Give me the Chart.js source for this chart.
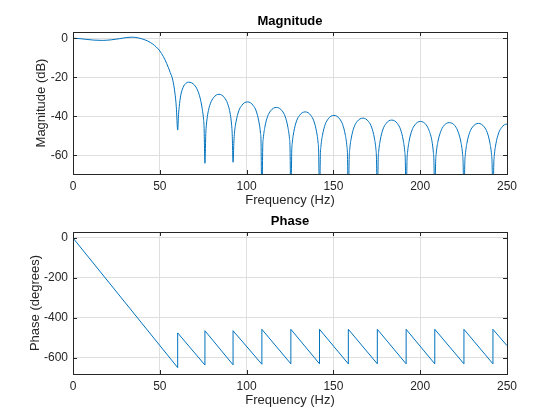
<!DOCTYPE html>
<html>
<head>
<meta charset="utf-8">
<script src="https://cdn.jsdelivr.net/npm/chart.js@4.4.1/dist/chart.umd.min.js"></script>
<style>
  html, body { margin: 0; padding: 0; background: #fff; }
  #wrap { position: relative; width: 560px; height: 420px; }
  canvas { position: absolute; left: 0; }
</style>
</head>
<body>
<div id="wrap">
  <canvas id="magChart" width="560" height="210" style="top:0"></canvas>
  <canvas id="phaseChart" width="560" height="210" style="top:210px"></canvas>
</div>
<script>
// tick labels
const freqTicks = [0, 50, 100, 150, 200, 250];
const magTicks = [-60, -40, -20, 0];
const phaseTicks = [-600, -400, -200, 0];

// magnitude response (Hz, dB)
const magFreq = [
  0, 4, 8, 12, 17, 22, 27, 31, 34, 37, 40, 43, 46, 48, 50, 52, 54, 56, 57.5, 58.7, 59.5,
  60.3, 60.8, 61.2, 62.0, 63.4, 65.0, 66.6, 68.3, 70.0, 71.6, 73.2, 74.5, 75.2, 75.5,
  76.0, 76.5, 76.8, 77.6, 79.2, 80.9, 82.5, 84.1, 85.7, 87.3, 89.0, 90.6, 91.4, 91.7,
  92.2, 92.7, 93.0, 93.9, 95.5, 97.2, 98.8, 100.5, 102.2, 103.8, 105.5, 107.1, 108.0, 108.3,
  108.8, 109.3, 109.6, 110.5, 112.1, 113.8, 115.5, 117.1, 118.8, 120.5, 122.2, 123.8, 124.7, 125.0,
  125.5, 126.0, 126.3, 127.2, 128.8, 130.5, 132.1, 133.8, 135.4, 137.0, 138.7, 140.3, 141.2, 141.5,
  142.0, 142.5, 142.8, 143.7, 145.3, 147.0, 148.6, 150.3, 152.0, 153.6, 155.3, 156.9, 157.8, 158.1,
  158.6, 159.1, 159.4, 160.3, 161.9, 163.6, 165.3, 167.0, 168.6, 170.3, 172.0, 173.6, 174.5, 174.8,
  175.3, 175.8, 176.1, 177.0, 178.6, 180.3, 181.9, 183.6, 185.3, 186.9, 188.6, 190.2, 191.1, 191.4,
  191.9, 192.4, 192.7, 193.6, 195.2, 196.9, 198.5, 200.2, 201.8, 203.5, 205.1, 206.8, 207.6, 207.9,
  208.4, 208.9, 209.2, 210.1, 211.8, 213.4, 215.1, 216.8, 218.5, 220.2, 221.8, 223.5, 224.4, 224.7,
  225.2, 225.7, 226.0, 226.9, 228.5, 230.2, 231.9, 233.6, 235.2, 236.9, 238.6, 240.2, 241.1, 241.4,
  241.9, 242.4, 242.7, 243.6, 245.2, 246.9, 248.5, 250.0
];
const magDb = [
  0, -0.2, -0.6, -0.95, -1.1, -0.8, -0.2, 0.4, 0.55, 0.3, -0.4, -1.4, -3.0, -4.5, -6.5, -9.3, -13, -17.5, -21.5, -28, -35,
  -47, -39, -35, -29.5, -25.2, -23.1, -22.5, -22.8, -24.0, -26.3, -30.5, -36.5, -41.5, -45.5,
  -64, -48.7, -44.7, -38.9, -33.3, -30.5, -29.1, -28.7, -29.1, -30.5, -33.3, -38.9, -44.7, -48.7,
  -63.5, -52.6, -48.6, -42.8, -37.2, -34.4, -33.0, -32.6, -33.0, -34.4, -37.2, -42.8, -48.6, -52.6,
  -85, -55.4, -51.4, -45.6, -40.0, -37.2, -35.8, -35.4, -35.8, -37.2, -40.0, -45.6, -51.4, -55.4,
  -85, -57.7, -53.7, -47.9, -42.3, -39.5, -38.1, -37.7, -38.1, -39.5, -42.3, -47.9, -53.7, -57.7,
  -85, -59.5, -55.5, -49.7, -44.1, -41.3, -39.9, -39.5, -39.9, -41.3, -44.1, -49.7, -55.5, -59.5,
  -85, -60.9, -56.9, -51.1, -45.5, -42.7, -41.3, -40.9, -41.3, -42.7, -45.5, -51.1, -56.9, -60.9,
  -85, -61.9, -57.9, -52.1, -46.5, -43.7, -42.3, -41.9, -42.3, -43.7, -46.5, -52.1, -57.9, -61.9,
  -85, -62.6, -58.6, -52.8, -47.2, -44.4, -43.0, -42.6, -43.0, -44.4, -47.2, -52.8, -58.6, -62.6,
  -85, -63.2, -59.2, -53.4, -47.8, -45.0, -43.6, -43.2, -43.6, -45.0, -47.8, -53.4, -59.2, -63.2,
  -85, -63.6, -59.6, -53.8, -48.2, -45.4, -44.0, -43.6, -44.0, -45.4, -48.2, -53.8, -59.6, -63.6,
  -85, -63.9, -59.9, -54.1, -48.5, -45.7, -44.3, -43.9
];

// phase response (Hz, degrees)
const phaseFreq = [
  0, 60.3, 60.3, 76.0, 76.0, 92.2, 92.2, 108.8, 108.8, 125.5, 125.5, 142.0, 142.0,
  158.6, 158.6, 175.3, 175.3, 191.9, 191.9, 208.4, 208.4, 225.2, 225.2, 241.9, 241.9, 250
];
const phaseDeg = [
  0, -650, -476, -637, -465, -636, -465, -633, -458, -631, -458, -631, -458,
  -631, -458, -631, -458, -631, -458, -631, -458, -631, -458, -631, -458, -540
];

const LINE = '#0072BD';
const AXIS = '#262626';
const GRID = '#dfdfdf';
const FONT = 'Liberation Sans, Arial, Helvetica, sans-serif';

function toPoints(xs, ys) {
  return xs.map((x, i) => ({ x: x, y: ys[i] }));
}

// box round the axes plus inward tick marks on all four sides
const boxTicks = {
  id: 'boxTicks',
  afterDraw(chart) {
    const { ctx, chartArea: a, scales: { x, y } } = chart;
    const len = 4;
    ctx.save();
    ctx.strokeStyle = AXIS;
    ctx.lineWidth = 1;
    ctx.beginPath();
    x.ticks.forEach(t => {
      const px = Math.round(x.getPixelForValue(t.value)) + 0.5;
      ctx.moveTo(px, a.bottom); ctx.lineTo(px, a.bottom - len);
      ctx.moveTo(px, a.top); ctx.lineTo(px, a.top + len);
    });
    y.ticks.forEach(t => {
      const py = Math.round(y.getPixelForValue(t.value)) + 0.5;
      ctx.moveTo(a.left, py); ctx.lineTo(a.left + len, py);
      ctx.moveTo(a.right, py); ctx.lineTo(a.right - len, py);
    });
    ctx.stroke();
    ctx.strokeRect(Math.round(a.left) + 0.5, Math.round(a.top) + 0.5,
      Math.round(a.right - a.left), Math.round(a.bottom - a.top));
    ctx.restore();
  }
};

function makeChart(id, opts) {
  return new Chart(document.getElementById(id), {
    type: 'line',
    data: {
      datasets: [{
        data: toPoints(opts.xs, opts.ys),
        borderColor: LINE,
        borderWidth: 1,
        pointRadius: 0,
        fill: false,
        clip: 0,
        cubicInterpolationMode: opts.smooth ? 'monotone' : 'default',
        tension: 0,
      }],
    },
    options: {
      responsive: false,
      animation: false,
      devicePixelRatio: 1,
      layout: { padding: { left: 0, right: 53, top: 0, bottom: 0 } },
      plugins: {
        legend: { display: false },
        tooltip: { enabled: false },
        title: {
          display: true,
          fullSize: false, // centre over the plot area, as MATLAB does
          text: opts.title,
          color: '#000',
          font: { family: FONT, size: 13, weight: 'bold' },
          padding: opts.titlePad,
        },
      },
      scales: {
        x: {
          type: 'linear',
          min: 0,
          max: 250,
          afterBuildTicks: s => { s.ticks = freqTicks.map(v => ({ value: v })); },
          afterFit: s => { s.height = opts.xHeight; },
          grid: { color: GRID, drawTicks: false },
          border: { display: false },
          ticks: { color: AXIS, padding: 5, maxRotation: 0, font: { family: FONT, size: 12 } },
          title: {
            display: true,
            text: 'Frequency (Hz)',
            color: AXIS,
            font: { family: FONT, size: 13 },
            padding: { top: 0, bottom: opts.xTitlePad },
          },
        },
        y: {
          type: 'linear',
          min: opts.yMin,
          max: opts.yMax,
          afterBuildTicks: s => { s.ticks = opts.yTicks.map(v => ({ value: v })); },
          afterFit: s => { s.width = 73; },
          grid: { color: GRID, drawTicks: false },
          border: { display: false },
          ticks: { color: AXIS, padding: 5, font: { family: FONT, size: 12 } },
          title: {
            display: true,
            text: opts.yLabel,
            color: AXIS,
            font: { family: FONT, size: 13 },
            padding: { top: opts.yTitlePad, bottom: 0 },
          },
        },
      },
    },
    plugins: [boxTicks],
  });
}

makeChart('magChart', {
  xs: magFreq, ys: magDb, smooth: true,
  title: 'Magnitude', titlePad: { top: 13.7, bottom: 2.7 },
  yMin: -69.5, yMax: 3.2, yTicks: magTicks, yLabel: 'Magnitude (dB)',
  xHeight: 36, xTitlePad: 1.5, yTitlePad: 34,
});

makeChart('phaseChart', {
  xs: phaseFreq, ys: phaseDeg, smooth: false,
  title: 'Phase', titlePad: { top: 4.0, bottom: 2.4 },
  yMin: -682, yMax: 30, yTicks: phaseTicks, yLabel: 'Phase (degrees)',
  xHeight: 46, xTitlePad: 12.2, yTitlePad: 27.2,
});
</script>
</body>
</html>
